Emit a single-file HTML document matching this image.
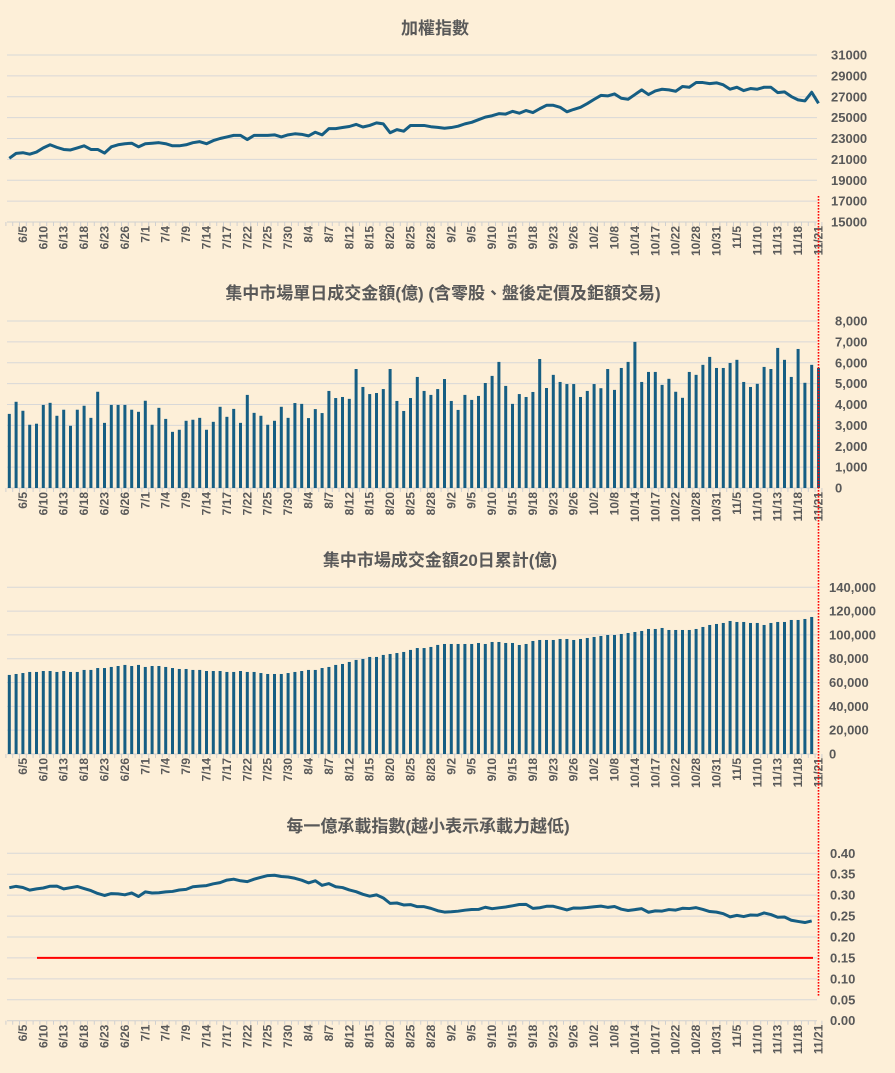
<!DOCTYPE html>
<html><head><meta charset="utf-8">
<style>
html,body{margin:0;padding:0;background:#fdefd8;}
svg{display:block;font-family:"Liberation Sans","Noto Sans CJK TC",sans-serif;}
.t{font-size:17px;font-weight:bold;fill:#595959;}
.yl{font-size:13px;font-weight:bold;fill:#595959;}
.xl{font-size:12px;font-weight:bold;fill:#595959;}
</style></head>
<body>
<svg id="chart" width="895" height="1073" viewBox="0 0 895 1073" xmlns="http://www.w3.org/2000/svg">
<rect width="895" height="1073" fill="#fdefd8"/>
<text class="t" x="435" y="34" text-anchor="middle">加權指數</text>
<text class="t" x="443" y="299" text-anchor="middle">集中市場單日成交金額(億) (含零股、盤後定價及鉅額交易)</text>
<text class="t" x="440" y="566" text-anchor="middle">集中市場成交金額20日累計(億)</text>
<text class="t" x="428" y="832" text-anchor="middle">每一億承載指數(越小表示承載力越低)</text>
</svg>
<script>
const dateLabels = ["6/5","6/10","6/13","6/18","6/23","6/26","7/1","7/4","7/9","7/14","7/17","7/22","7/25","7/30","8/4","8/7","8/12","8/15","8/20","8/25","8/28","9/2","9/5","9/10","9/15","9/18","9/23","9/26","10/2","10/8","10/14","10/17","10/22","10/28","10/31","11/5","11/10","11/13","11/18","11/21"];
const indexValues = [21100,21575,21640,21500,21700,22100,22400,22150,21950,21900,22100,22300,21950,21950,21600,22200,22400,22500,22550,22200,22500,22550,22600,22500,22300,22300,22400,22600,22700,22500,22800,23000,23150,23300,23300,22900,23300,23300,23300,23350,23150,23350,23450,23400,23250,23600,23350,23950,23950,24050,24150,24350,24100,24250,24500,24400,23550,23850,23700,24250,24250,24250,24130,24070,23980,24050,24180,24400,24550,24800,25050,25180,25380,25340,25600,25420,25680,25480,25850,26180,26180,25990,25560,25790,25990,26350,26750,27130,27080,27270,26860,26760,27210,27660,27210,27560,27720,27660,27530,27980,27910,28360,28360,28260,28330,28140,27720,27910,27590,27790,27720,27910,27910,27400,27470,27020,26700,26600,27430,26370];
const dailyVolume = [3550,4130,3700,3030,3080,3980,4080,3460,3750,2980,3750,3940,3360,4610,3120,3980,3980,3980,3750,3650,4180,3030,3840,3310,2690,2790,3220,3270,3360,2790,3170,3890,3410,3790,3120,4460,3600,3460,3030,3220,3890,3360,4070,4030,3350,3780,3590,4650,4310,4360,4270,5700,4840,4500,4550,4740,5700,4170,3690,4310,5320,4650,4460,4740,5220,4170,3740,4460,4220,4410,5030,5370,6040,4890,4030,4500,4360,4600,6180,4790,5420,5080,4980,4980,4360,4650,4980,4780,5700,4700,5750,6040,7000,5080,5560,5560,4940,5230,4610,4320,5560,5420,5900,6280,5750,5750,5990,6140,5080,4840,4990,5800,5700,6710,6140,5320,6660,5040,5900,5750];
const volume20Day = [66400,67200,68000,68900,68900,69700,69700,68900,69700,68900,68900,70600,70600,72200,72200,73100,73900,74800,73900,74800,73100,73900,73900,73100,72200,71400,71400,70600,70600,69700,69700,69700,68900,68900,69700,68900,68900,68000,67200,67200,67200,68000,68900,69700,70600,70600,72200,73100,74800,75600,77300,79000,79800,81500,81500,83200,84000,84800,85700,87400,89000,89000,89900,91600,92400,92400,92400,92400,92400,93240,92400,94080,94080,93240,93240,91560,92400,94920,95760,95760,95760,96600,96600,95760,96600,97440,98280,99120,99960,99960,100800,101640,102480,103320,105000,105000,105840,104160,104160,104160,104160,105000,106680,108360,109200,110040,111720,110880,110880,110040,110040,108360,110040,110880,110880,112560,112560,113400,115080];
const indexTicks = [15000,17000,19000,21000,23000,25000,27000,29000,31000];
const dailyTicks = [0,1000,2000,3000,4000,5000,6000,7000,8000];
const sumTicks = [0,20000,40000,60000,80000,100000,120000,140000];
const ratioTicks = [0,0.05,0.10,0.15,0.20,0.25,0.30,0.35,0.40];
const thresholdValue = 0.15;

const NS = "http://www.w3.org/2000/svg";
const svg = document.getElementById('chart');
const X0 = 9.3, STEP = 6.8;
function xAt(i){ return X0 + STEP*i; }
function mk(tag, attrs, parent){
  const e = document.createElementNS(NS, tag);
  for (const k in attrs) e.setAttribute(k, attrs[k]);
  (parent||svg).appendChild(e);
  return e;
}
function panel(name, top, bottom, min, max, ticks, fmt, labelX){
  const y = v => bottom - (v-min)/(max-min)*(bottom-top);
  const g = mk('g', {});
  
  
  ticks.forEach(t => {
    const yy = y(t);
    if (t !== min) {
      const l = mk('line', {x1:7, x2:817, y1:yy, y2:yy, stroke:'#d8d8d8', 'stroke-width':1}, g);
      
      
    }
    const tx = mk('text', {x:labelX, y:yy+4.5, class:'yl'}, g);
    
    
    tx.textContent = fmt(t);
  });
  const ax = mk('line', {x1:7, x2:817, y1:bottom, y2:bottom, stroke:'#d0d0d0', 'stroke-width':1}, g);
  
  
  for (let i=0;i<=120;i++){
    const xx = xAt(i)-STEP/2;
    const tk = mk('line', {x1:xx, x2:xx, y1:bottom, y2:bottom+4, stroke:'#d0d0d0', 'stroke-width':1}, g);
    
    
  }
  dateLabels.forEach((d,k) => {
    const xx = xAt(2+3*k)+4;
    const tx = mk('text', {x:0, y:0, class:'xl', 'text-anchor':'end', transform:`translate(${xx},${bottom+4}) rotate(-90)`}, g);
    
    
    tx.textContent = d;
  });
  return {g, y};
}
const plain = v => String(v);
const comma = v => v.toLocaleString('en-US');
const dec2 = v => v.toFixed(2);

const p1 = panel('index-panel', 55, 222, 15000, 31000, indexTicks, plain, 831);
const l1 = mk('polyline', {points: indexValues.map((v,i)=>xAt(i)+','+p1.y(v)).join(' '), fill:'none', stroke:'#165e83', 'stroke-width':3, 'stroke-linejoin':'round'}, p1.g);



const p2 = panel('daily-volume-panel', 321, 488, 0, 8000, dailyTicks, comma, 835);
dailyVolume.forEach((v,i) => {
  const r = mk('rect', {x:xAt(i)-1.5, y:p2.y(v), width:3, height:488-p2.y(v), fill:'#165e83'}, p2.g);
  
  
});

const p3 = panel('volume-20day-panel', 587.3, 754, 0, 140000, sumTicks, comma, 829);
volume20Day.forEach((v,i) => {
  const r = mk('rect', {x:xAt(i)-1.5, y:p3.y(v), width:3, height:754-p3.y(v), fill:'#165e83'}, p3.g);
  
  
});

const p4 = panel('capacity-index-panel', 853.3, 1020.7, 0, 0.40, ratioTicks, dec2, 830);
const ratio = volume20Day.map((s,i) => indexValues[i]/s);
const th = mk('line', {x1:37, x2:813, y1:p4.y(thresholdValue), y2:p4.y(thresholdValue), stroke:'#ff0000', 'stroke-width':2}, p4.g);


const l4 = mk('polyline', {points: ratio.map((v,i)=>xAt(i)+','+p4.y(v)).join(' '), fill:'none', stroke:'#165e83', 'stroke-width':3, 'stroke-linejoin':'round'}, p4.g);



const vm = mk('line', {x1:818.5, x2:818.5, y1:196, y2:996, stroke:'#ff0000', 'stroke-width':1.6, 'stroke-dasharray':'1.6,1.4'});


</script>
</body></html>
